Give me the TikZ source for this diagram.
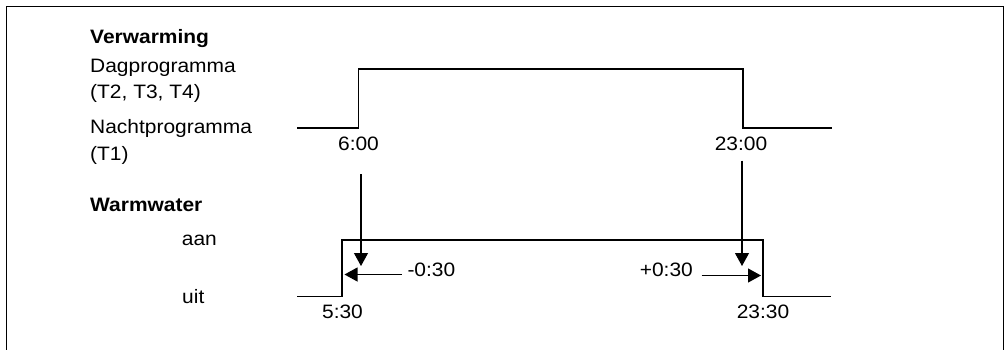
\documentclass[tikz,border=0pt]{standalone}
\usepackage{fontspec}
\setmainfont[FakeStretch=1.08]{Liberation Sans}
\usetikzlibrary{arrows.meta}
\begin{document}
\begin{tikzpicture}[x=1pt,y=-1pt,
  lbl/.style={anchor=base west, inner sep=0pt, font=\fontsize{19.4}{23}\selectfont},
  tlbl/.style={anchor=base, inner sep=0pt, font=\fontsize{19.4}{23}\selectfont},
  signal/.style={line width=1.8pt, line join=miter},
  marker/.style={line width=1.1pt, -{Triangle[length=13pt,width=14pt]}},
  framestyle/.style={line width=0.9pt}]
\useasboundingbox (0,0) rectangle (1006,349);
% frame (open at bottom)
\draw[framestyle] (6.6,352) -- (6.6,6.6) -- (1003.3,6.6) -- (1003.3,352);
% left labels
\node[lbl, font=\fontsize{19.4}{23}\selectfont\bfseries] (verw) at (90,43.3) {Verwarming};
\node[lbl] (dag) at (90,72.3) {Dagprogramma};
\node[lbl] (dagt) at (90,98.3) {(T2, T3, T4)};
\node[lbl] (nacht) at (90,133.5) {Nachtprogramma};
\node[lbl] (nachtt) at (90,160) {(T1)};
\node[lbl, font=\fontsize{19.4}{23}\selectfont\bfseries] (ww) at (90,211) {Warmwater};
\node[lbl] (aan) at (181.7,245) {aan};
\node[lbl] (uit) at (182,303.3) {uit};
% time labels
\node[tlbl] (t600) at (358.5,150) {6:00};
\node[tlbl] (t2300) at (741,150) {23:00};
\node[tlbl] (t530) at (342.5,318.3) {5:30};
\node[tlbl] (t2330) at (763,318.3) {23:30};
\node[lbl] (m030) at (407.3,276) {-0:30};
\node[lbl, anchor=base east] (p030) at (693,276) {+0:30};
% heating signal
\draw[signal] (297,128) -- (358.5,128) -- (358.5,69) -- (743,69) -- (743,128) -- (832,128);
% hot water signal
\draw[signal] (297,296.5) -- (342,296.5) -- (342,240) -- (763,240) -- (763,296.5) -- (831,296.5);
% arrows
\coordinate (a1s) at (361,174);
\coordinate (a1e) at (361,266);
\coordinate (a2s) at (742,160.5);
\coordinate (a2e) at (742,266);
\coordinate (h1s) at (401.7,274.5);
\coordinate (h1e) at (344.5,274.5);
\coordinate (h2s) at (701.7,275.5);
\coordinate (h2e) at (761,275.5);
\draw[marker] (a1s) -- (a1e);
\draw[marker] (a2s) -- (a2e);
\draw[marker] (h1s) -- (h1e);
\draw[marker] (h2s) -- (h2e);
\end{tikzpicture}
\end{document}
